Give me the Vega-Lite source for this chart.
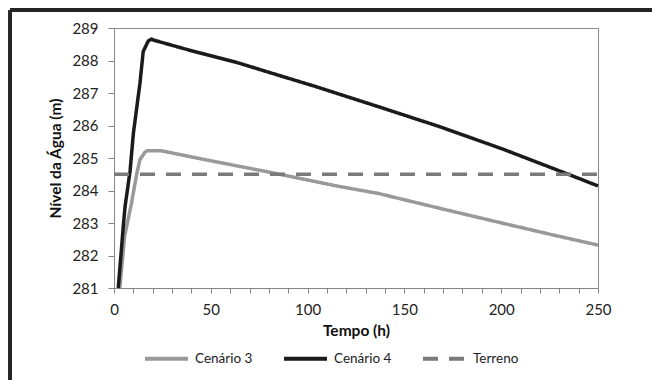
{
  "$schema": "https://vega.github.io/schema/vega-lite/v6.json",
  "width": 484,
  "height": 260,
  "autosize": "none",
  "padding": {"left": 114, "top": 28, "right": 54, "bottom": 92},
  "background": "white",
  "config": {
    "view": {"stroke": "#888888", "strokeWidth": 1},
    "font": "Lato",
    "axisX": {
      "labelOverlap": false,
      "labelBound": false,
      "labelFlush": false,
      "grid": false,
      "domainColor": "#868686",
      "tickColor": "#868686",
      "tickSize": 5,
      "labelPadding": 9,
      "labelFont": "Lato",
      "labelFontSize": 15,
      "labelColor": "#222222",
      "titleFont": "Lato",
      "titleFontSize": 15.5,
      "titleFontWeight": "bold",
      "titleColor": "#111111",
      "titlePadding": 6
    },
    "axisY": {
      "labelOverlap": false,
      "labelBound": false,
      "labelFlush": false,
      "grid": false,
      "domainColor": "#868686",
      "tickColor": "#868686",
      "tickSize": 6,
      "labelPadding": 10,
      "labelFont": "Lato",
      "labelFontSize": 15,
      "labelColor": "#222222",
      "titleFont": "Lato",
      "titleFontSize": 15.5,
      "titleFontWeight": "bold",
      "titleColor": "#111111",
      "titlePadding": 8
    }
  },
  "data": {
    "values": [
      {"t": 3, "v": 281.0, "serie": "Cenário 3"},
      {"t": 5.5, "v": 282.6, "serie": "Cenário 3"},
      {"t": 9, "v": 283.6, "serie": "Cenário 3"},
      {"t": 11.7, "v": 284.5, "serie": "Cenário 3"},
      {"t": 13.4, "v": 284.95, "serie": "Cenário 3"},
      {"t": 16, "v": 285.18, "serie": "Cenário 3"},
      {"t": 17, "v": 285.22, "serie": "Cenário 3"},
      {"t": 24.6, "v": 285.22, "serie": "Cenário 3"},
      {"t": 47.8, "v": 284.94, "serie": "Cenário 3"},
      {"t": 78.9, "v": 284.58, "serie": "Cenário 3"},
      {"t": 116.7, "v": 284.12, "serie": "Cenário 3"},
      {"t": 136.5, "v": 283.91, "serie": "Cenário 3"},
      {"t": 168.4, "v": 283.45, "serie": "Cenário 3"},
      {"t": 201, "v": 282.99, "serie": "Cenário 3"},
      {"t": 226.9, "v": 282.63, "serie": "Cenário 3"},
      {"t": 250, "v": 282.32, "serie": "Cenário 3"},
      {"t": 2.2, "v": 281.0, "serie": "Cenário 4"},
      {"t": 4.8, "v": 282.9, "serie": "Cenário 4"},
      {"t": 5.7, "v": 283.5, "serie": "Cenário 4"},
      {"t": 8.3, "v": 284.6, "serie": "Cenário 4"},
      {"t": 10, "v": 285.75, "serie": "Cenário 4"},
      {"t": 13.4, "v": 287.3, "serie": "Cenário 4"},
      {"t": 15.1, "v": 288.28, "serie": "Cenário 4"},
      {"t": 17.7, "v": 288.6, "serie": "Cenário 4"},
      {"t": 19.4, "v": 288.66, "serie": "Cenário 4"},
      {"t": 20.3, "v": 288.63, "serie": "Cenário 4"},
      {"t": 40, "v": 288.3, "serie": "Cenário 4"},
      {"t": 63.4, "v": 287.94, "serie": "Cenário 4"},
      {"t": 87.5, "v": 287.5, "serie": "Cenário 4"},
      {"t": 103, "v": 287.22, "serie": "Cenário 4"},
      {"t": 136.5, "v": 286.58, "serie": "Cenário 4"},
      {"t": 168.4, "v": 285.96, "serie": "Cenário 4"},
      {"t": 201, "v": 285.27, "serie": "Cenário 4"},
      {"t": 235.5, "v": 284.48, "serie": "Cenário 4"},
      {"t": 250, "v": 284.14, "serie": "Cenário 4"},
      {"t": 0, "v": 284.5, "serie": "Terreno"},
      {"t": 250, "v": 284.5, "serie": "Terreno"}
    ]
  },
  "layer": [
    {
      "mark": {"type": "line", "strokeWidth": 3.5, "strokeJoin": "round"},
      "encoding": {
        "x": {
          "field": "t", "type": "quantitative",
          "scale": {"domain": [0, 250], "nice": false, "zero": false},
          "axis": {
            "title": "Tempo (h)",
            "values": [0,10,20,30,40,50,60,70,80,90,100,110,120,130,140,150,160,170,180,190,200,210,220,230,240,250],
            "labelExpr": "datum.value % 50 === 0 ? datum.label : ''"
          }
        },
        "y": {
          "field": "v", "type": "quantitative",
          "scale": {"domain": [281, 289], "nice": false, "zero": false},
          "axis": {
            "title": "Nível da Água (m)",
            "values": [281,282,283,284,285,286,287,288,289]
          }
        },
        "color": {
          "field": "serie", "type": "nominal",
          "scale": {"domain": ["Cenário 3", "Cenário 4", "Terreno"], "range": ["#999999", "#1a1a1a", "#7a7a7a"]},
          "legend": {
            "orient": "none",
            "legendX": 29,
            "legendY": 307,
            "direction": "horizontal",
            "title": null,
            "symbolType": "stroke",
            "symbolSize": 1849,
            "symbolStrokeWidth": 4,
            "labelFont": "Lato",
            "labelFontSize": 13.5,
            "labelColor": "#222222",
            "labelOffset": 5,
            "columnPadding": 23,
            "padding": 0
          }
        },
        "strokeDash": {
          "field": "serie", "type": "nominal",
          "scale": {"domain": ["Cenário 3", "Cenário 4", "Terreno"], "range": [[1, 0], [1, 0], [15, 11]]},
          "legend": null
        }
      }
    },
    {
      "mark": {"type": "rule", "color": "#262626", "strokeWidth": 3, "clip": false},
      "encoding": {
        "x": {"datum": -53.5, "type": "quantitative",
          "axis": {
            "title": "Tempo (h)",
            "values": [0,10,20,30,40,50,60,70,80,90,100,110,120,130,140,150,160,170,180,190,200,210,220,230,240,250],
            "labelExpr": "datum.value % 50 === 0 ? datum.label : ''"
          }},
        "y": {"datum": 289.55, "type": "quantitative",
          "axis": {
            "title": "Nível da Água (m)",
            "values": [281,282,283,284,285,286,287,288,289]
          }},
        "y2": {"datum": 277}
      }
    },
    {
      "mark": {"type": "rule", "color": "#262626", "strokeWidth": 3, "clip": false},
      "encoding": {
        "x": {"datum": -53.5, "type": "quantitative",
          "axis": {
            "title": "Tempo (h)",
            "values": [0,10,20,30,40,50,60,70,80,90,100,110,120,130,140,150,160,170,180,190,200,210,220,230,240,250],
            "labelExpr": "datum.value % 50 === 0 ? datum.label : ''"
          }},
        "x2": {"datum": 285},
        "y": {"datum": 289.55, "type": "quantitative",
          "axis": {
            "title": "Nível da Água (m)",
            "values": [281,282,283,284,285,286,287,288,289]
          }}
      }
    }
  ]
}
